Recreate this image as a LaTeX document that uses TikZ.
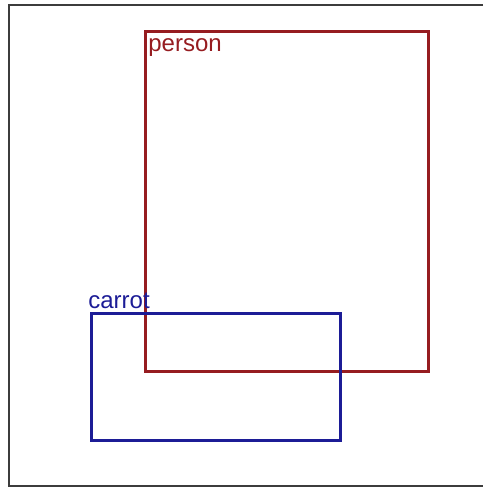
\documentclass[tikz,border=0pt]{standalone}
\usepackage{fontspec}
\setmainfont{Liberation Sans}
\definecolor{personred}{RGB}{150,28,32}
\definecolor{carrotblue}{RGB}{28,28,150}
\definecolor{framegray}{RGB}{60,60,60}
\begin{document}
\begin{tikzpicture}[x=0.5pt, y=-0.5pt,
        bbox/.style={draw, line width=1.4pt, inner sep=0pt},
        tag/.style={anchor=base west, inner sep=0pt, font=\fontsize{12}{14}\selectfont}
      ]
      \useasboundingbox (0,0) rectangle (483,488);
      \draw[framegray, line width=1.4pt] (483,5) -- (9,5) -- (9,486) -- (483,486);

      \node[bbox, personred, minimum width=141.5pt, minimum height=170pt, anchor=north west] (person) at (144,30) {};
      \node[bbox, carrotblue, minimum width=124.5pt, minimum height=63.5pt, anchor=north west] (carrot) at (90,312) {};

      \node[tag, text=personred] (personlabel) at (148,51) {person};
      \node[tag, text=carrotblue] (carrotlabel) at (88,308) {carrot};
    \end{tikzpicture}
\end{document}
